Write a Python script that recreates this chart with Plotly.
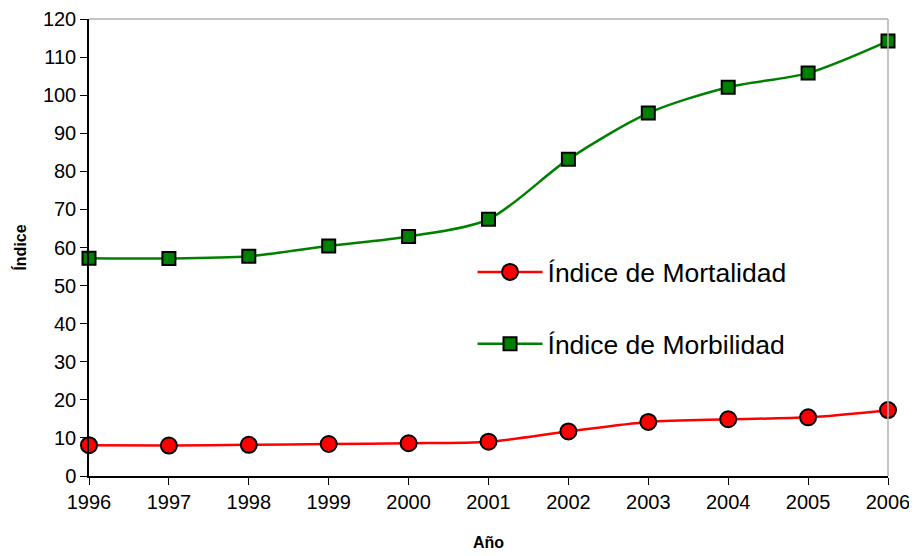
import plotly.graph_objects as go

years = [1996, 1997, 1998, 1999, 2000, 2001, 2002, 2003, 2004, 2005, 2006]
mortalidad = [8.1, 8.0, 8.2, 8.4, 8.6, 9.0, 11.7, 14.2, 14.9, 15.4, 17.3]
morbilidad = [57.2, 57.1, 57.7, 60.4, 62.9, 67.4, 83.2, 95.3, 102.1, 105.8, 114.2]
y_ticks = list(range(0, 121, 10))

fig = go.Figure()
fig.add_trace(go.Scatter(
    x=years, y=mortalidad, name="Índice de Mortalidad", mode="lines+markers",
    line=dict(color="#ff0000", width=2.5, shape="spline", smoothing=0.8),
    marker=dict(symbol="circle", size=16, color="#ff0000", line=dict(color="black", width=2)),
    cliponaxis=False, legend="legend",
))
fig.add_trace(go.Scatter(
    x=years, y=morbilidad, name="Índice de Morbilidad", mode="lines+markers",
    line=dict(color="#008000", width=2.5, shape="spline", smoothing=0.8),
    marker=dict(symbol="square", size=13, color="#008000", line=dict(color="black", width=2)),
    cliponaxis=False, legend="legend2",
))

leg_common = dict(xanchor="left", yanchor="middle", font=dict(size=26.5, color="black"),
                  bgcolor="rgba(0,0,0,0)", itemwidth=65)
fig.update_layout(
    width=917, height=556,
    margin=dict(l=81, r=37, t=11, b=88, autoexpand=False),
    paper_bgcolor="white", plot_bgcolor="white",
    font=dict(family="Liberation Sans, Arial, sans-serif", color="black", size=20),
    showlegend=True,
    legend=dict(x=0.48, y=0.446, **leg_common),
    legend2=dict(x=0.48, y=0.289, **leg_common),
    shapes=[
        dict(type="line", xref="paper", yref="paper", x0=0, x1=1, y0=1, y1=1,
             line=dict(color="#b0b0b0", width=1.5)),
        dict(type="line", xref="paper", yref="paper", x0=1, x1=1, y0=0, y1=1,
             line=dict(color="#b0b0b0", width=1.5)),
    ],
)
fig.update_xaxes(
    range=[1996, 2006], tickvals=years, ticktext=[str(y) for y in years],
    tickfont=dict(size=20),
    showgrid=False, zeroline=False, showline=True, linecolor="black", linewidth=1.5,
    ticks="outside", ticklen=7, tickcolor="black",
    title=dict(text="<b>Año</b>", font=dict(size=16), standoff=25),
)
fig.update_yaxes(
    range=[0, 120], tickvals=y_ticks, tickfont=dict(size=20),
    showgrid=False, zeroline=False, showline=True, linecolor="black", linewidth=1.5,
    ticks="outside", ticklen=7, tickcolor="black",
    title=dict(text="<b>Índice</b>", font=dict(size=16), standoff=12),
)

fig.write_html("out.html")
